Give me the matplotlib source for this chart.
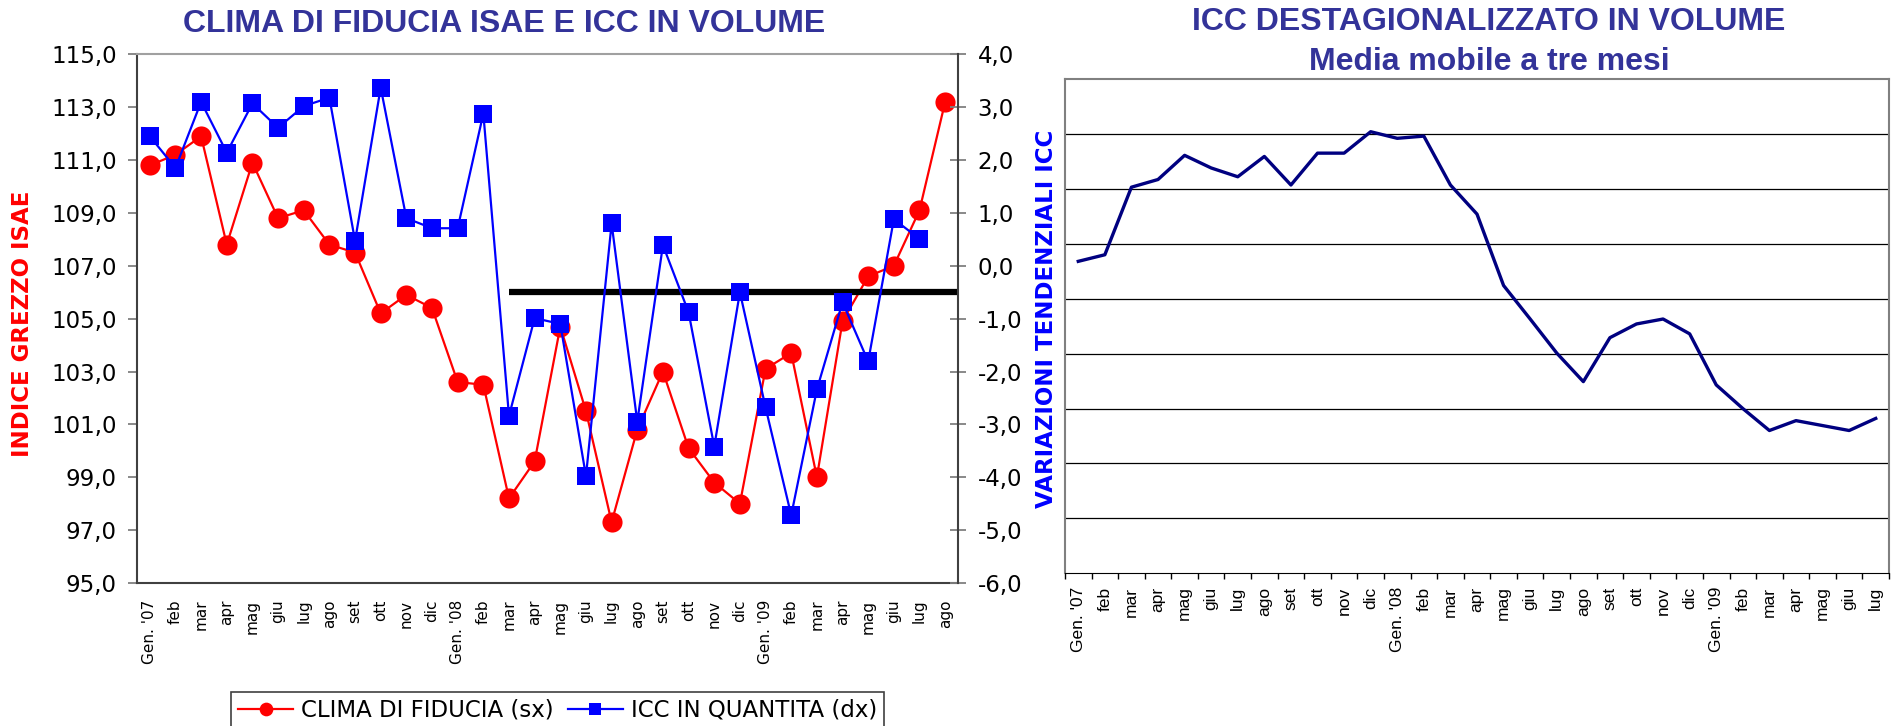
import numpy as np
import matplotlib
matplotlib.use("Agg")
import matplotlib.pyplot as plt

# --- dati grafico sinistro (gen 2007 - ago 2009)
mesi_sx = ["Gen. '07", "feb", "mar", "apr", "mag", "giu", "lug", "ago", "set", "ott", "nov", "dic",
           "Gen. '08", "feb", "mar", "apr", "mag", "giu", "lug", "ago", "set", "ott", "nov", "dic",
           "Gen. '09", "feb", "mar", "apr", "mag", "giu", "lug", "ago"]
clima_fiducia = [110.8, 111.2, 111.9, 107.8, 110.9, 108.8, 109.1, 107.8, 107.5, 105.2, 105.9, 105.4,
                 102.6, 102.5, 98.2, 99.6, 104.7, 101.5, 97.3, 100.8, 103.0, 100.1, 98.8, 98.0,
                 103.1, 103.7, 99.0, 104.9, 106.6, 107.0, 109.1, 113.2]
icc_quantita = [2.45, 1.85, 3.10, 2.14, 3.07, 2.61, 3.02, 3.18, 0.47, 3.37, 0.90, 0.71,
                0.71, 2.88, -2.84, -0.99, -1.10, -3.98, 0.80, -2.95, 0.39, -0.88, -3.42, -0.50,
                -2.68, -4.72, -2.34, -0.69, -1.81, 0.88, 0.51]
soglia_icc = -0.5      # linea nera (asse dx)
soglia_inizio = 14     # da mar '08

# --- dati grafico destro (gen 2007 - lug 2009)
mesi_dx = mesi_sx[:31]
icc_destag = [0.68, 0.80, 2.03, 2.17, 2.61, 2.38, 2.22, 2.59, 2.07, 2.65, 2.65, 3.04,
              2.92, 2.96, 2.07, 1.54, 0.24, -0.37, -0.99, -1.51, -0.71, -0.46, -0.37, -0.64,
              -1.57, -2.00, -2.40, -2.22, -2.31, -2.40, -2.18]

blu_titolo = "#333399"

fig = plt.figure(figsize=(18.97, 7.26), dpi=100)

# ================= grafico sinistro
ax = fig.add_axes([0.0722, 0.1970, 0.4328, 0.7282])
ax2 = ax.twinx()
x = np.arange(len(mesi_sx))

l1, = ax.plot(x, clima_fiducia, color="#FF0000", lw=1.6, marker="o", ms=14.5, mew=0,
              zorder=3, clip_on=False)
ax2.hlines(soglia_icc, soglia_inizio, len(mesi_sx) - 0.5, color="black", lw=4.5, zorder=1)
l2, = ax2.plot(x[:len(icc_quantita)], icc_quantita, color="#0000FF", lw=1.6, marker="s", ms=13.5,
               mew=0, zorder=3, clip_on=False)

ax.set_xlim(-0.5, len(mesi_sx) - 0.5)
ax.set_ylim(95, 115)
ax2.set_ylim(-6, 4)
yl = np.arange(95, 115.1, 2)
ax.set_yticks(yl, [f"{v:.1f}".replace(".", ",") for v in yl])
yr = np.arange(-6, 4.1, 1)
ax2.set_yticks(yr, [f"{v:.1f}".replace(".", ",") for v in yr])
ax.set_xticks(x, mesi_sx, rotation=90, fontsize=11)
ax.tick_params(axis="x", length=0, pad=12)
ax.tick_params(axis="y", direction="out", length=6.5, width=1.3, color="#808080", pad=8, labelsize=16.5)
ax2.tick_params(axis="y", direction="inout", length=12, width=1.3, color="#808080", pad=8, labelsize=16.5)

ax.spines["top"].set_color("#A0A0A0")
ax.spines["right"].set_visible(False)
for s in ["left", "bottom"]:
    ax.spines[s].set_color("#404040")
for s in ["top", "left", "bottom"]:
    ax2.spines[s].set_visible(False)
ax2.spines["right"].set_color("#404040")
for s in [ax.spines["top"], ax.spines["left"], ax.spines["bottom"], ax2.spines["right"]]:
    s.set_linewidth(1.5)

leg = fig.legend([l1, l2], ["CLIMA DI FIDUCIA (sx)", "ICC IN QUANTITA (dx)"], loc="upper center",
                 bbox_to_anchor=(0.2939, 0.0468), ncol=2, fontsize=16.5, frameon=True, fancybox=False,
                 edgecolor="#404040", framealpha=1, borderpad=0.3, handlelength=2.4,
                 columnspacing=0.6, handletextpad=0.35, markerscale=0.68, borderaxespad=0)
leg.get_frame().set_linewidth(1.2)

fig.text(0.266, 0.967, "CLIMA DI FIDUCIA ISAE E ICC IN VOLUME", ha="center", va="center",
         family="Liberation Sans", weight="bold", fontsize=23, color=blu_titolo)
fig.text(0.0121, 0.5537, "INDICE GREZZO ISAE", rotation=90, ha="center", va="center",
         weight="bold", fontsize=16.5, color="#FF0000")

# ================= grafico destro
axr = fig.add_axes([0.5614, 0.2103, 0.4344, 0.6809])
xr = np.arange(len(mesi_dx))
axr.plot(xr, icc_destag, color="#000080", lw=2.4, zorder=3)
axr.set_xlim(-0.5, len(mesi_dx) - 0.5)
axr.set_ylim(-5, 4)
axr.set_yticks(np.arange(-4, 4), [])
axr.tick_params(axis="y", length=0)
axr.grid(axis="y", color="black", lw=0.9)
axr.set_axisbelow(True)
axr.set_xticks(xr, mesi_dx, rotation=90, fontsize=12.5, family="Liberation Sans")
axr.tick_params(axis="x", which="major", length=0, pad=9.5)
axr.set_xticks(np.arange(-0.5, len(mesi_dx)), minor=True)
axr.tick_params(axis="x", which="minor", length=4, width=1, color="black")
for s in ["left", "top", "right"]:
    axr.spines[s].set_color("#808080")
    axr.spines[s].set_linewidth(1.5)
axr.spines["bottom"].set_color("black")

fig.text(0.785, 0.970, "ICC DESTAGIONALIZZATO IN VOLUME", ha="center", va="center",
         family="Liberation Sans", weight="bold", fontsize=23, color=blu_titolo)
fig.text(0.785, 0.915, "Media mobile a tre mesi", ha="center", va="center",
         family="Liberation Sans", weight="bold", fontsize=23, color=blu_titolo)
fig.text(0.5517, 0.5606, "VARIAZIONI TENDENZIALI ICC", rotation=90, ha="center", va="center",
         weight="bold", fontsize=16.5, color="#0000FF")

fig.savefig("out.png", dpi=100)
plt.close(fig)
